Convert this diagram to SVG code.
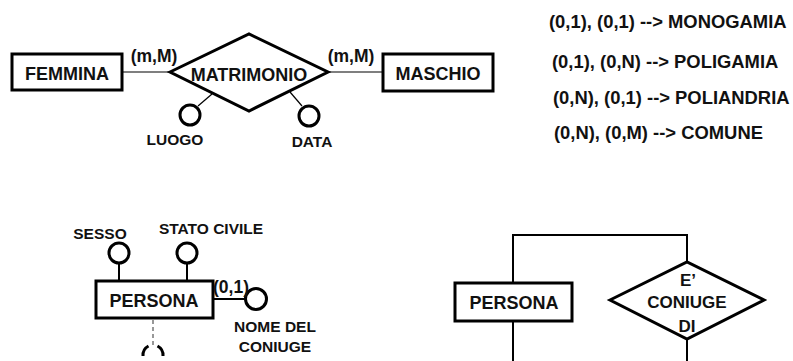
<svg xmlns="http://www.w3.org/2000/svg" width="793" height="361" viewBox="0 0 793 361">
  <style>
    text { font-family: "Liberation Sans", Arial, sans-serif; font-weight: bold; fill: #111; }
    .ent { font-size: 18px; text-anchor: middle; }
    .rel { font-size: 18px; text-anchor: middle; }
    .card { font-size: 17.5px; text-anchor: middle; }
    .attr { font-size: 15.5px; text-anchor: middle; }
    .note { font-size: 18.4px; }
    .box { fill: #fff; stroke: #000; stroke-width: 3; }
    .dia { fill: #fff; stroke: #000; stroke-width: 3; stroke-linejoin: miter; }
    .att { fill: #fff; stroke: #000; stroke-width: 3; }
    .thin { stroke: #000; stroke-width: 1.2; fill: none; }
    .link { stroke: #000; stroke-width: 2; fill: none; }
  </style>

  <!-- connectors -->
  <g id="connectors">
    <line class="thin" x1="122" y1="72" x2="170" y2="72"/>
    <line class="thin" x1="328" y1="72" x2="383" y2="72"/>
    <line class="thin" x1="198" y1="106" x2="212" y2="94"/>
    <line class="thin" x1="290" y1="92" x2="302" y2="106"/>
    <line class="link" x1="119" y1="264" x2="119" y2="281"/>
    <line class="link" x1="187" y1="264" x2="187" y2="281"/>
    <line class="link" x1="213" y1="299" x2="245" y2="299"/>
    <line x1="153" y1="320" x2="153" y2="345" stroke="#777" stroke-width="1.5" stroke-dasharray="4,3"/>
    <polyline class="link" points="513,283 513,235 687,235 687,262"/>
    <line class="link" x1="513" y1="321" x2="513" y2="361"/>
    <line class="link" x1="687" y1="339" x2="687" y2="361"/>
  </g>

  <!-- upper schema -->
  <g id="femmina">
    <rect class="box" x="12" y="54" width="110" height="36"/>
    <text class="ent" x="67" y="80">FEMMINA</text>
  </g>
  <g id="matrimonio">
    <polygon class="dia" points="170,72 249,34 328,72 249,111"/>
    <text class="rel" x="249" y="81">MATRIMONIO</text>
  </g>
  <g id="maschio">
    <rect class="box" x="383" y="54" width="110" height="37"/>
    <text class="ent" x="438" y="80">MASCHIO</text>
  </g>
  <g id="luogo">
    <circle class="att" cx="190" cy="115" r="10"/>
    <text class="attr" x="175" y="145">LUOGO</text>
  </g>
  <g id="data">
    <circle class="att" cx="309" cy="116" r="10"/>
    <text class="attr" x="312" y="147">DATA</text>
  </g>
  <g id="card-sx">
    <text class="card" x="154" y="62">(m,M)</text>
  </g>
  <g id="card-dx">
    <text class="card" x="351" y="62">(m,M)</text>
  </g>

  <!-- cardinality legend -->
  <g id="legenda">
    <text class="note" x="549" y="28">(0,1), (0,1) --&gt; MONOGAMIA</text>
    <text class="note" x="552" y="68">(0,1), (0,N) --&gt; POLIGAMIA</text>
    <text class="note" x="553" y="104">(0,N), (0,1) --&gt; POLIANDRIA</text>
    <text class="note" x="554" y="139">(0,N), (0,M) --&gt; COMUNE</text>
  </g>

  <!-- lower left schema -->
  <g id="persona-1">
    <rect class="box" x="96" y="281" width="117" height="37"/>
    <text class="ent" x="154" y="307">PERSONA</text>
  </g>
  <g id="sesso">
    <circle class="att" cx="119" cy="253" r="10"/>
    <text class="attr" x="100" y="239">SESSO</text>
  </g>
  <g id="stato-civile">
    <circle class="att" cx="187" cy="253" r="10"/>
    <text class="attr" x="211" y="234">STATO CIVILE</text>
  </g>
  <g id="nome-coniuge">
    <circle class="att" cx="256" cy="299" r="10.5"/>
    <text class="card" x="231" y="293">(0,1)</text>
    <text class="attr" x="275" y="332">NOME DEL</text>
    <text class="attr" x="275" y="352">CONIUGE</text>
  </g>
  <g id="attr-parziale">
    <path class="att" fill="none" d="M 143 356 A 10.5 10.5 0 0 1 148.5 346"/>
    <path class="att" fill="none" d="M 157.5 346 A 10.5 10.5 0 0 1 163 356"/>
  </g>

  <!-- lower right schema -->
  <g id="persona-2">
    <rect class="box" x="455" y="283" width="117" height="38"/>
    <text class="ent" x="514" y="309">PERSONA</text>
  </g>
  <g id="coniuge-di">
    <polygon class="dia" points="610,300 687,262 764,300 687,339"/>
    <text class="rel" x="688" y="286" style="font-size:17px">E’</text>
    <text class="rel" x="687" y="308" style="font-size:17px">CONIUGE</text>
    <text class="rel" x="687" y="332" style="font-size:17px">DI</text>
  </g>
</svg>
